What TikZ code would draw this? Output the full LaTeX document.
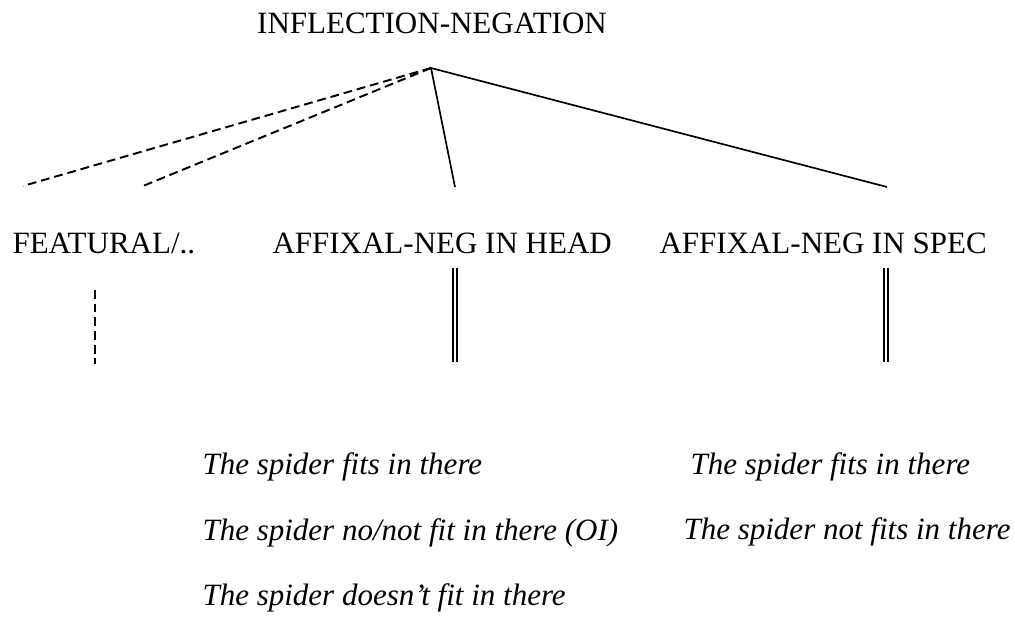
\documentclass[tikz,border=0pt]{standalone}
\usepackage{fontspec}
\setmainfont{Liberation Serif}
\usetikzlibrary{
    positioning,
    calc
}
\tikzset{
    cat/.style={
        font=\fontsize{12}{14}\selectfont,
        inner sep=0pt,
        anchor=base west,
    },
    sentence/.style={
        cat,
        font=\fontsize{12}{14}\selectfont\itshape,
    },
    branch/.style={
        line width=0.65pt,
    },
    weak/.style={
        line width=0.75pt,
        dash pattern=on 3.4pt off 1.9pt,
    },
    strong/.style={
        line width=0.65pt,
        double,
        double distance=1.1pt,
    },
}
\begin{document}
\begin{tikzpicture}[x=0.387pt,y=-0.387pt]
            \tikzset{
                node distance=25.2pt,
                on grid,
            }
            \useasboundingbox (0,0) rectangle (1015,628);

            \node[cat,anchor=base] (infneg) at (432,34) {INFLECTION-NEGATION};

            \node[cat] (featural) at (12,254) {FEATURAL/..};
            \node[cat] (head) at (272,254) {AFFIXAL-NEG IN HEAD};
            \node[cat] (spec) at (659,254) {AFFIXAL-NEG IN SPEC};

            \node[sentence] (headfits) at (202,475) {The spider fits in there};
            \node[sentence,below=of headfits.base west,anchor=base west] (headnot) {The spider no/not fit in there (OI)};
            \node[sentence,below=of headnot.base west,anchor=base west] (headdoesnt) {The spider doesn’t fit in there};

            \node[sentence] (specfits) at (690,475) {The spider fits in there};
            \node[sentence] (specnot) at (683,540) {The spider not fits in there};

            \coordinate (apex) at (431,68);
            \coordinate (featleft) at (23,186);
            \coordinate (featright) at (143,186);
            \coordinate (headend) at (455,187);
            \coordinate (specend) at (887,187);

            \coordinate (feattop) at (95,290);
            \coordinate (featfoot) at (95,364);
            \coordinate (headtop) at (455,268);
            \coordinate (headfoot) at (455,362);
            \coordinate (spectop) at (886,268);
            \coordinate (specfoot) at (886,362);

            \draw[weak] (apex) -- (featleft);
            \draw[weak] (apex) -- (featright);
            \draw[branch] (apex) -- (headend);
            \draw[branch] (apex) -- (specend);

            \draw[weak] (feattop) -- (featfoot);
            \draw[strong] (headtop) -- (headfoot);
            \draw[strong] (spectop) -- (specfoot);
        \end{tikzpicture}
\end{document}
